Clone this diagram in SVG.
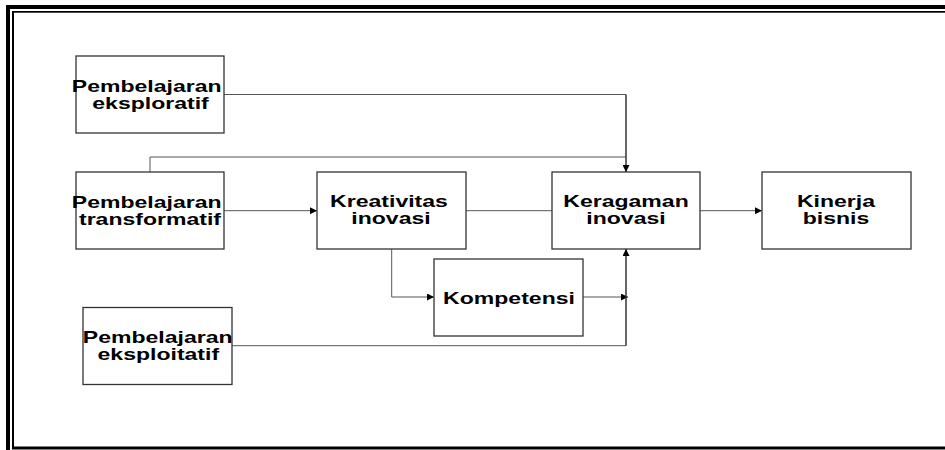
<svg xmlns="http://www.w3.org/2000/svg" width="945" height="450" viewBox="0 0 945 450">
<defs>
<marker id="ah" viewBox="0 0 10 10" refX="10" refY="5" markerWidth="7" markerHeight="7" markerUnits="userSpaceOnUse" orient="auto">
<path d="M0,0 L10,5 L0,10 z" fill="#000"/>
</marker>
</defs>
<style>
.box{fill:#fff;stroke:#333;stroke-width:1.3}
.lbl{font-family:"Liberation Sans",Arial,sans-serif;font-weight:bold;font-size:16px;fill:#000;text-anchor:middle}
.c{fill:none;stroke:#555;stroke-width:1}
.v{fill:none;stroke:#333;stroke-width:1.5}
</style>
<rect width="945" height="450" fill="#fff"/>
<g id="frame" fill="#000">
<rect x="6" y="5" width="939" height="4"/>
<rect x="6" y="5" width="4" height="445"/>
<rect x="12" y="11" width="933" height="1.7"/>
<rect x="12" y="11" width="2" height="438"/>
<rect x="12" y="446.5" width="933" height="3"/>
</g>
<g id="connectors">
<polyline class="c" points="224,94.5 626,94.5"/>
<polyline class="c" points="150,172 150,157 626,157"/>
<line class="v" x1="626" y1="94.5" x2="626" y2="172" marker-end="url(#ah)"/>
<line class="c" x1="224" y1="210.7" x2="317" y2="210.7" marker-end="url(#ah)"/>
<line class="c" x1="466" y1="210.7" x2="552" y2="210.7"/>
<line class="c" x1="700" y1="210.7" x2="762" y2="210.7" marker-end="url(#ah)"/>
<polyline class="c" points="391.7,249 391.7,297 434,297" marker-end="url(#ah)"/>
<line class="c" x1="583" y1="297" x2="628" y2="297" marker-end="url(#ah)"/>
<polyline class="c" points="232,345.7 626,345.7"/>
<line class="v" x1="626" y1="345.7" x2="626" y2="249" marker-end="url(#ah)"/>
</g>
<g id="eksploratif">
<rect class="box" x="76" y="56" width="148" height="77"/>
<text class="lbl" transform="translate(146.7,91.7) scale(1.44,1)">Pembelajaran</text>
<text class="lbl" transform="translate(150.5,109) scale(1.44,1)">eksploratif</text>
</g>
<g id="transformatif">
<rect class="box" x="76" y="172" width="148" height="77"/>
<text class="lbl" transform="translate(146.7,208.3) scale(1.44,1)">Pembelajaran</text>
<text class="lbl" transform="translate(150,225) scale(1.44,1)">transformatif</text>
</g>
<g id="eksploitatif">
<rect class="box" x="83" y="307.5" width="149" height="77"/>
<text class="lbl" transform="translate(157.7,343.3) scale(1.44,1)">Pembelajaran</text>
<text class="lbl" transform="translate(158.3,360) scale(1.44,1)">eksploitatif</text>
</g>
<g id="kreativitas">
<rect class="box" x="317" y="172" width="149" height="77"/>
<text class="lbl" transform="translate(389,207.3) scale(1.44,1)">Kreativitas</text>
<text class="lbl" transform="translate(391,224) scale(1.44,1)">inovasi</text>
</g>
<g id="kompetensi">
<rect class="box" x="434" y="259" width="149" height="77"/>
<text class="lbl" transform="translate(509,304) scale(1.44,1)">Kompetensi</text>
</g>
<g id="keragaman">
<rect class="box" x="552" y="172" width="148" height="77"/>
<text class="lbl" transform="translate(626,207.3) scale(1.44,1)">Keragaman</text>
<text class="lbl" transform="translate(626,224) scale(1.44,1)">inovasi</text>
</g>
<g id="kinerja">
<rect class="box" x="762" y="172" width="149" height="77"/>
<text class="lbl" transform="translate(836,206.7) scale(1.44,1)">Kinerja</text>
<text class="lbl" transform="translate(836,224) scale(1.44,1)">bisnis</text>
</g>
</svg>
